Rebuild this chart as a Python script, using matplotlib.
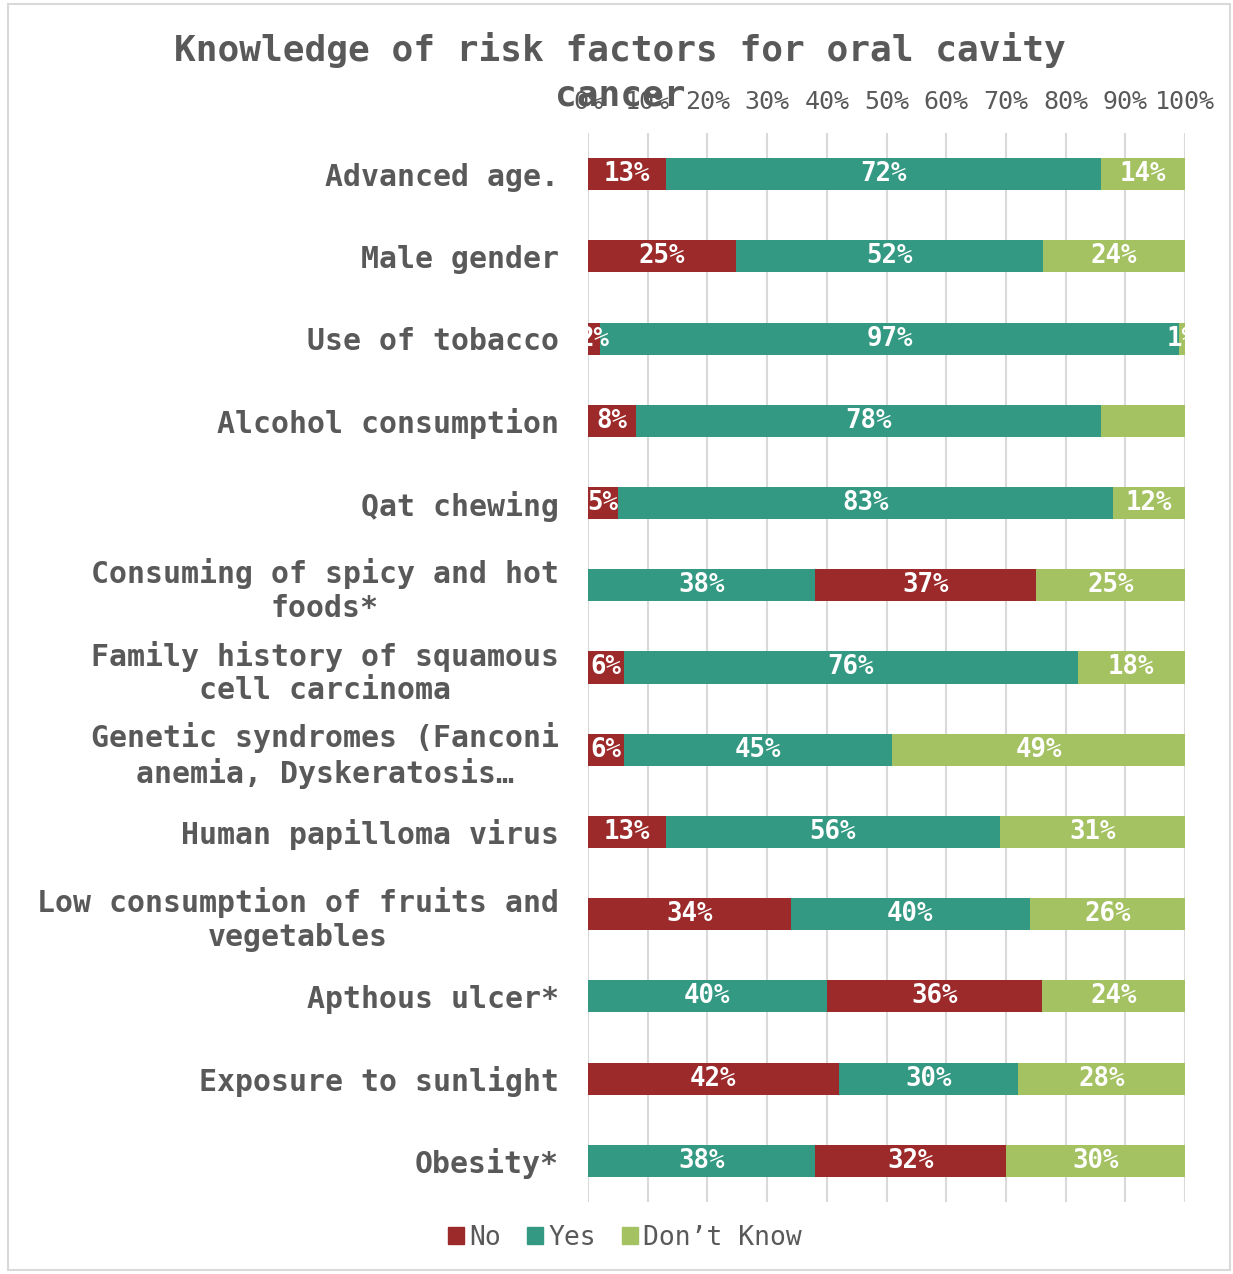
import matplotlib
matplotlib.use('Agg')
import matplotlib.pyplot as plt
from matplotlib.patches import Rectangle
import numpy as np

# data
categories = ['Advanced age.', 'Male gender', 'Use of tobacco', 'Alcohol consumption',
              'Qat chewing', 'Consuming of spicy and hot\nfoods*',
              'Family history of squamous\ncell carcinoma',
              'Genetic syndromes (Fanconi\nanemia, Dyskeratosis\u2026',
              'Human papilloma virus', 'Low consumption of fruits and\nvegetables',
              'Apthous ulcer*', 'Exposure to sunlight', 'Obesity*']
no_vals = [13, 25, 2, 8, 5, 37, 6, 6, 13, 34, 36, 42, 32]
yes_vals = [72, 52, 97, 78, 83, 38, 76, 45, 56, 40, 40, 30, 38]
dk_vals = [14, 24, 1, 14, 12, 25, 18, 49, 31, 26, 24, 28, 30]
# rows where the "Yes" segment is drawn before "No"
yes_first = [5, 10, 12]
# segments whose data label is not shown in the original
unlabelled = [(3, 'dk')]

c_no = '#9C2A2B'
c_yes = '#339982'
c_dk = '#A5C263'
grey = '#595959'
mono = 'DejaVu Sans Mono'

fig = plt.figure(figsize=(12.33, 12.74), dpi=100)
fig.patches.append(Rectangle((8 / 1233, 4 / 1274), 1222 / 1233, 1266 / 1274,
                             transform=fig.transFigure, fill=False,
                             edgecolor='#D9D9D9', linewidth=1.5))
ax = fig.add_axes([588 / 1233, 1 - 1202 / 1274, 597 / 1233, (1202 - 133) / 1274])

y = np.arange(len(categories))
for i in y:
    tot = no_vals[i] + yes_vals[i] + dk_vals[i]
    segs = [('no', no_vals[i], c_no), ('yes', yes_vals[i], c_yes), ('dk', dk_vals[i], c_dk)]
    if i in yes_first:
        segs = [segs[1], segs[0], segs[2]]
    left = 0
    for key, v, col in segs:
        w = v / tot
        ax.barh(i, w, left=left, height=0.39, color=col, zorder=3)
        if (i, key) not in unlabelled:
            ax.text(left + w / 2, i, f'{v}%', ha='center', va='center', color='white',
                    fontsize=18.5, fontweight='bold', family=mono, clip_on=True, zorder=4)
        left += w

ax.set_xlim(0, 1)
ax.set_ylim(len(categories) - 0.5, -0.5)
ax.set_xticks(np.linspace(0, 1, 11))
ax.set_xticklabels([f'{t}%' for t in range(0, 101, 10)])
ax.xaxis.tick_top()
ax.set_yticks(y)
ax.set_yticklabels(categories)
ax.tick_params(axis='x', length=0, pad=14, labelsize=18, labelcolor=grey)
ax.tick_params(axis='y', length=0, pad=21, labelsize=21.5, labelcolor=grey)
for lab in ax.get_xticklabels() + ax.get_yticklabels():
    lab.set_family(mono)
for lab in ax.get_yticklabels():
    lab.set_multialignment('center')
    lab.set_fontweight('bold')
ax.grid(axis='x', color='#D9D9D9', linewidth=1.5, zorder=0)
for s in ax.spines.values():
    s.set_visible(False)

fig.text(620 / 1233, 1 - 50 / 1274, 'Knowledge of risk factors for oral cavity',
         ha='center', va='center', fontsize=26, fontweight='bold', color=grey, family=mono)
fig.text(620 / 1233, 1 - 95 / 1274, 'cancer',
         ha='center', va='center', fontsize=26, fontweight='bold', color=grey, family=mono)

handles = [Rectangle((0, 0), 1, 1, color=c) for c in (c_no, c_yes, c_dk)]
fig.legend(handles, ['No', 'Yes', 'Don\u2019t Know'], loc='center',
           bbox_to_anchor=(625 / 1233, 1 - 1238 / 1274), ncol=3, frameon=False,
           prop={'family': mono, 'size': 19}, handlelength=0.6, handleheight=0.6,
           handletextpad=0.2, columnspacing=1.0, labelcolor=grey)

fig.savefig('out.png', dpi=100)
